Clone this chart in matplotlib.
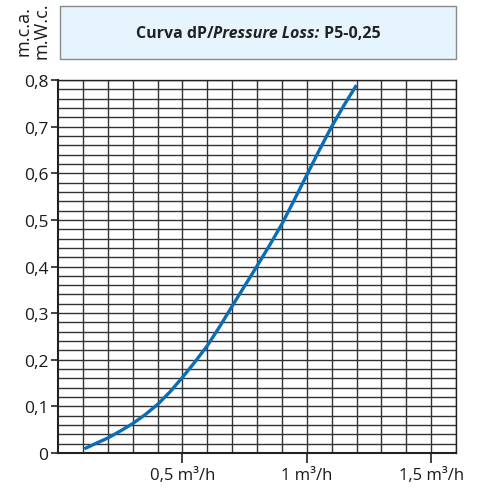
import numpy as np
import matplotlib.pyplot as plt
from matplotlib.patches import Rectangle

# Curve (flow m3/h, loss m.c.a.)
flow = [0.106, 0.15, 0.2, 0.25, 0.3, 0.35, 0.4, 0.45, 0.5, 0.55, 0.6, 0.65,
        0.7, 0.75, 0.8, 0.85, 0.9, 0.95, 1.0, 1.05, 1.1, 1.15, 1.2]
loss = [0.009, 0.020, 0.032, 0.047, 0.063, 0.082, 0.104, 0.131, 0.162, 0.195, 0.230, 0.271,
        0.315, 0.358, 0.401, 0.445, 0.491, 0.543, 0.596, 0.649, 0.700, 0.746, 0.789]

y_ticks = [0, 0.1, 0.2, 0.3, 0.4, 0.5, 0.6, 0.7, 0.8]
y_labels = ["0", "0,1", "0,2", "0,3", "0,4", "0,5", "0,6", "0,7", "0,8"]
x_ticks = [0.5, 1.0, 1.5]
x_labels = ["0,5 m³/h", "1 m³/h", "1,5 m³/h"]

plt.rcParams['font.family'] = ['Open Sans', 'DejaVu Sans']

W, H = 482, 489
fig = plt.figure(figsize=(W / 100, H / 100), dpi=100)
ax = fig.add_axes([58 / W, 1 - 454 / H, (456 - 58) / W, (454 - 81) / H])

# grid
for xv in np.arange(0.1, 1.61, 0.1):
    ax.axvline(xv, color='#333333', lw=1.0, zorder=1)
for yv in np.arange(0.02, 0.801, 0.02):
    ax.axhline(yv, color='#333333', lw=1.0, zorder=1)

ax.plot(flow, loss, color='#0b6db5', lw=2.4, solid_capstyle='butt', solid_joinstyle='round', zorder=3)

ax.set_xlim(0, 1.6)
ax.set_ylim(0, 0.8)
ax.set_yticks(y_ticks)
ax.set_yticklabels(y_labels, fontsize=12.5, color='#1a1a1a')
ax.set_xticks(x_ticks)
ax.set_xticklabels(x_labels, fontsize=12, color='#1a1a1a')
ax.tick_params(axis='both', length=5, width=1.2, color='#222222', pad=2)
ax.tick_params(axis='x', length=7, pad=3)
for s in ax.spines.values():
    s.set_color('#222222')
    s.set_linewidth(1.0)
ax.spines['left'].set_linewidth(1.5)
ax.spines['bottom'].set_linewidth(1.5)

# y unit label
fig.text(23 / W, 1 - 31 / H, "m.c.a.", rotation=90, ha='center', va='center', fontsize=13, color='#1a1a1a')
fig.text(42 / W, 1 - 31 / H, "m.W.c.", rotation=90, ha='center', va='center', fontsize=13, color='#1a1a1a')

# title box
fig.patches.append(Rectangle((60 / W, 1 - 60 / H), 396 / W, 53 / H, transform=fig.transFigure,
                             facecolor='#e6f4fd', edgecolor='#8a8a8a', lw=1.0))

parts = [("Curva dP/", 'normal'), ("Pressure Loss:", 'italic'), (" P5-0,25", 'normal')]
r = fig.canvas.get_renderer()
texts = []
for s, st in parts:
    t = fig.text(0, 1 - 34 / H, s, fontsize=11.5, fontweight='bold', fontstyle=st,
                 ha='left', va='center', color='#222222')
    texts.append(t)
widths = [t.get_window_extent(r).width for t in texts]
x = (258 - sum(widths) / 2)
for t, w in zip(texts, widths):
    t.set_x(x / W)
    x += w

fig.savefig("out.png", dpi=100)
